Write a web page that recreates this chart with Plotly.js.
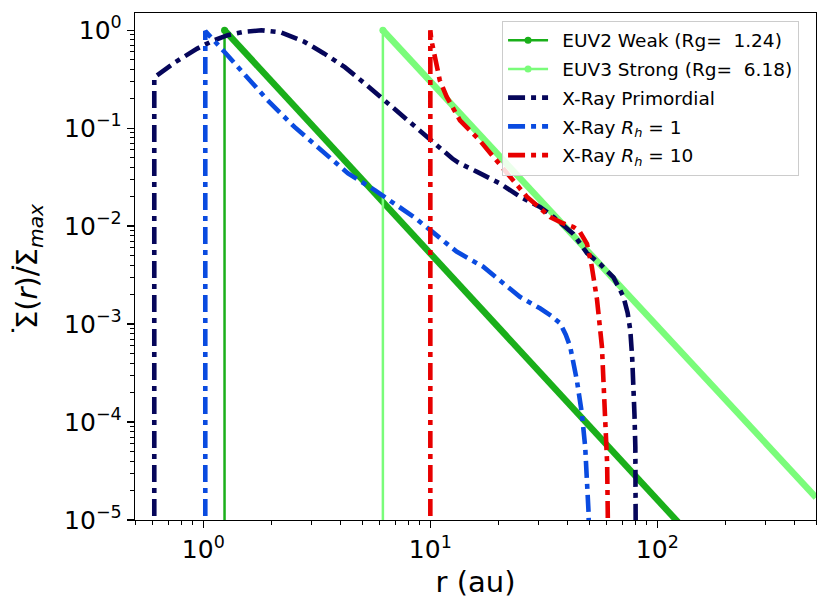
<!DOCTYPE html>
<html>
<head>
<meta charset="utf-8">
<script src="https://cdn.plot.ly/plotly-3.0.1.min.js"></script>
<style>html,body{margin:0;padding:0;background:#fff;}#chart{width:830px;height:611px;}</style>
</head>
<body>
<div id="chart"></div>
<script>
// ---- data ----
var euv2VertX = [1.24, 1.24];
var euv2VertY = [1e-6, 1.0];
var euv2X = [1.24, 125];
var euv2Y = [1.0, 9.2e-6];

var euv3VertX = [6.18, 6.18];
var euv3VertY = [1e-6, 1.0];
var euv3X = [6.18, 500];
var euv3Y = [1.0, 1.7e-5];

var primX = [0.608, 0.608, 0.75, 0.94, 1.1, 1.28, 1.5, 1.8, 2.2, 2.79, 3.4, 4.2, 5.2, 6.5, 7.33, 8.3, 9.3, 10, 11.5, 12.5, 13.3, 14.2, 16, 20.3, 24.8, 30.4, 34.9, 42.7, 49, 56, 64.1, 68.7, 70.9, 74, 76, 77.5, 78.5, 79.3, 80, 80.5, 80.6];
var primY = [1e-6, 0.33, 0.47, 0.65, 0.78, 0.89, 0.96, 1.0, 0.95, 0.76, 0.58, 0.42, 0.28, 0.18, 0.142, 0.108, 0.086, 0.075, 0.057, 0.049, 0.0445, 0.041, 0.036, 0.0272, 0.020, 0.0157, 0.0124, 0.0083, 0.0053, 0.0041, 0.0030, 0.0022, 0.0019, 0.0013, 8.7e-4, 4.5e-4, 2.7e-4, 1.2e-4, 5.6e-5, 1.2e-5, 1e-6];

var rh1X = [1.02, 1.02, 1.24, 1.52, 1.92, 2.52, 3.31, 4.34, 5.69, 6.97, 8.5, 10, 11.5, 13.05, 17.1, 20, 24.8, 30.4, 34, 37.3, 39.5, 41.3, 44.2, 46.5, 48.1, 49.8, 50.2];
var rh1Y = [1e-6, 0.98, 0.6, 0.36, 0.193, 0.103, 0.0597, 0.0345, 0.0233, 0.017, 0.0123, 0.0091, 0.007, 0.0055, 0.00385, 0.0029, 0.0019, 0.00145, 0.00122, 0.00102, 7.8e-4, 5.9e-4, 2.68e-4, 1.23e-4, 5.6e-5, 1.17e-5, 1e-6];

var rh10X = [10, 10, 10.1, 10.4, 11, 11.8, 13.5, 16.5, 18.9, 22, 26.6, 30, 33.7, 38, 42.7, 45.5, 47.2, 49, 51.4, 54.2, 57, 58.9, 60.1, 60.5, 60.6];
var rh10Y = [1e-6, 1.0, 0.8, 0.58, 0.31, 0.21, 0.12, 0.075, 0.051, 0.034, 0.020, 0.0157, 0.0124, 0.0108, 0.0098, 0.0088, 0.0078, 0.0066, 0.0039, 0.0018, 5.9e-4, 1.23e-4, 3.8e-5, 1.1e-5, 1e-6];

var seriesNames = ['EUV2 Weak (Rg=\u00a0\u00a01.24)', 'EUV3 Strong (Rg=\u00a0\u00a06.18)', 'X-Ray Primordial', 'X-Ray <i>R<sub>h</sub></i> = 1', 'X-Ray <i>R<sub>h</sub></i> = 10'];

var xTickVals = [1, 10, 100];
var xTickText = ['10<sup>0</sup>', '10<sup>1</sup>', '10<sup>2</sup>'];
var yTickVals = [1e-5, 1e-4, 1e-3, 1e-2, 1e-1, 1];
var yTickText = ['10<sup>\u22125</sup>', '10<sup>\u22124</sup>', '10<sup>\u22123</sup>', '10<sup>\u22122</sup>', '10<sup>\u22121</sup>', '10<sup>0</sup>'];

var xTitle = 'r (au)';
var yTitle = '\u03A3(<i>r</i>)/\u03A3<sub><i>max</i></sub>';
var yTitleDot = '\u00B7';

// ---- styles ----
var cEuv2 = '#1aaf1a', cEuv3 = '#7afc7a', cPrim = '#06065a', cRh1 = '#0a4be0', cRh10 = '#e80000';
var xrDash = '17px,6px,5px,6px';
var xrW = 4.6;
var lp = '\u2002';

var traces = [
  {x: euv2VertX, y: euv2VertY, mode: 'lines+markers', name: lp + seriesNames[0], legendgroup: 'g1',
   line: {color: cEuv2, width: 2.5}, marker: {color: cEuv2, size: 7}},
  {x: euv2X, y: euv2Y, mode: 'lines', legendgroup: 'g1', showlegend: false,
   line: {color: cEuv2, width: 6.5}},
  {x: euv3VertX, y: euv3VertY, mode: 'lines+markers', name: lp + seriesNames[1], legendgroup: 'g2',
   line: {color: cEuv3, width: 2.5}, marker: {color: cEuv3, size: 7}},
  {x: euv3X, y: euv3Y, mode: 'lines', legendgroup: 'g2', showlegend: false,
   line: {color: cEuv3, width: 6.5}},
  {x: primX, y: primY, mode: 'lines', name: lp + seriesNames[2], legendgroup: 'g3',
   line: {color: cPrim, width: xrW, dash: xrDash}},
  {x: rh1X, y: rh1Y, mode: 'lines', name: lp + seriesNames[3], legendgroup: 'g4',
   line: {color: cRh1, width: xrW, dash: xrDash}},
  {x: rh10X, y: rh10Y, mode: 'lines', name: lp + seriesNames[4], legendgroup: 'g5',
   line: {color: cRh10, width: xrW, dash: xrDash}}
];

var fam = 'DejaVu Sans, sans-serif';
var axisCommon = {
  type: 'log', showline: true, mirror: true, linecolor: '#000', linewidth: 1.3,
  ticks: 'outside', ticklen: 7, tickwidth: 1.3, tickcolor: '#000',
  showgrid: false, zeroline: false, tickmode: 'array',
  tickfont: {family: fam, size: 25, color: '#000'},
  minor: {ticks: 'outside', ticklen: 4, tickwidth: 1, tickcolor: '#000', dtick: 'D1', showgrid: false}
};

var layout = {
  width: 830, height: 611,
  margin: {l: 135, r: 14, t: 13, b: 91, pad: 0},
  paper_bgcolor: '#fff', plot_bgcolor: '#fff',
  font: {family: fam, color: '#000'},
  showlegend: true,
  xaxis: Object.assign({}, axisCommon, {
    range: [Math.log10(0.5), Math.log10(500)],
    tickvals: xTickVals, ticktext: xTickText,
    title: {text: xTitle, font: {family: fam, size: 29, color: '#000'}, standoff: 8}
  }),
  yaxis: Object.assign({}, axisCommon, {
    range: [-5, 0.176],
    tickvals: yTickVals, ticktext: yTickText,
    title: {text: yTitle, font: {family: fam, size: 29, color: '#000'}, standoff: 18}
  }),
  legend: {
    x: 0.539, y: 0.985, xanchor: 'left', yanchor: 'top',
    bgcolor: 'rgba(255,255,255,0.85)', bordercolor: '#cccccc', borderwidth: 1,
    font: {family: fam, size: 18.5, color: '#000'},
    itemwidth: 40, traceorder: 'grouped', tracegroupgap: 1.7
  },
  annotations: [
    {xref: 'paper', yref: 'paper', x: (13 - 135) / 681, y: 1 - (331 - 13) / 507, text: yTitleDot,
     showarrow: false, xanchor: 'center', yanchor: 'middle', font: {family: fam, size: 24, color: '#000'}},
    {xref: 'paper', yref: 'paper', x: (13 - 135) / 681, y: 1 - (268 - 13) / 507, text: yTitleDot,
     showarrow: false, xanchor: 'center', yanchor: 'middle', font: {family: fam, size: 24, color: '#000'}}
  ]
};

Plotly.newPlot('chart', traces, layout, {staticPlot: true, displayModeBar: false});
</script>
</body>
</html>
